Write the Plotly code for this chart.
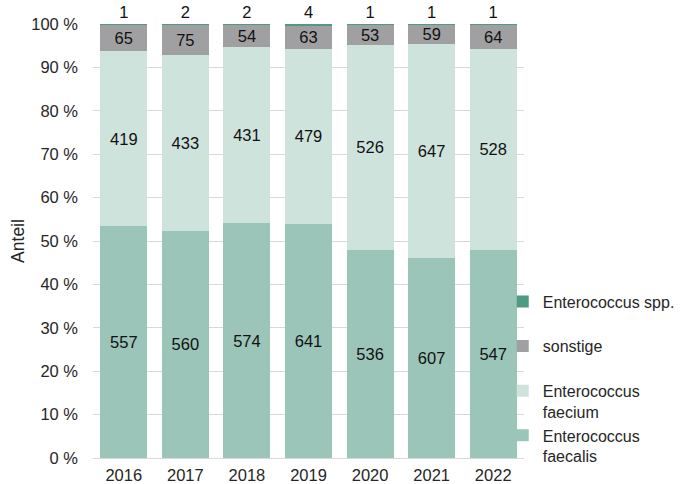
import plotly.graph_objects as go

years = ["2016", "2017", "2018", "2019", "2020", "2021", "2022"]
faecalis = [557, 560, 574, 641, 536, 607, 547]
faecium = [419, 433, 431, 479, 526, 647, 528]
sonstige = [65, 75, 54, 63, 53, 59, 64]
spp = [1, 2, 2, 4, 1, 1, 1]

# legend names: every entry takes two lines so the slots are evenly spaced
series = [
    ("Enterococcus<br>faecalis", faecalis, "#9bc5b9", "inside"),
    ("Enterococcus<br>faecium", faecium, "#cfe3dd", "inside"),
    ("sonstige<br> ", sonstige, "#a0a0a2", "inside"),
    ("Enterococcus spp.<br> ", spp, "#4e9a82", "outside"),
]

font = "Liberation Sans, Arial, sans-serif"
fs = 16.5

fig = go.Figure()
for name, vals, color, pos in series:
    fig.add_trace(go.Bar(
        x=years, y=vals, name=name,
        marker=dict(color=color, line=dict(width=0)),
        text=[str(v) for v in vals], texttemplate="%{text}",
        textposition=pos, insidetextanchor="middle", textangle=0,
        constraintext="none", cliponaxis=False,
        textfont=dict(family=font, size=fs, color="#111111"),
    ))

fig.update_layout(
    barmode="stack", barnorm="percent", bargap=0.237,
    width=684, height=484,
    margin=dict(l=93, r=160, t=24, b=26, autoexpand=False),
    paper_bgcolor="white", plot_bgcolor="white",
    font=dict(family=font, size=fs, color="#262626"),
    uniformtext=dict(minsize=fs, mode="show"),
    legend=dict(xref="container", yref="container",
                x=0.735, y=0.412, xanchor="left", yanchor="top",
                traceorder="reversed", valign="top",
                bgcolor="rgba(0,0,0,0)",
                font=dict(size=16, color="#262626"),
                itemwidth=30),
    yaxis=dict(range=[0, 100], dtick=10, ticksuffix=" %",
               showgrid=True, gridcolor="#d9d9d9", gridwidth=1,
               zeroline=False, showline=False, automargin=False,
               ticklabelstandoff=14,
               title=dict(text="Anteil", standoff=2,
                          font=dict(size=17.5, color="#262626")),
               tickfont=dict(size=fs, color="#262626")),
    xaxis=dict(showline=True, linecolor="#d9d9d9", linewidth=1,
               automargin=False, ticklabelstandoff=2,
               tickfont=dict(size=fs, color="#262626"), ticks=""),
    showlegend=True,
)

fig.write_html("out.html")
